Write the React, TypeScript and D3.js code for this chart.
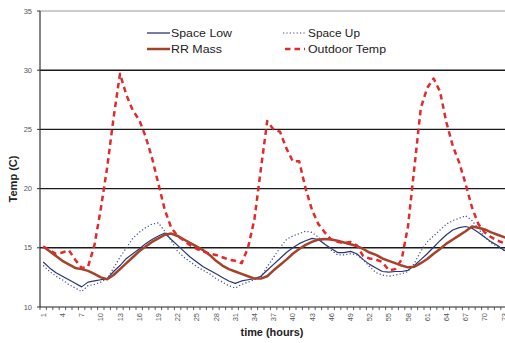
import React from "react";
import * as d3 from "d3";

const hours = [
  1, 2, 3, 4, 5, 6, 7, 8, 9, 10, 11, 12, 13, 14, 15, 16, 17, 18, 19, 20,
  21, 22, 23, 24, 25, 26, 27, 28, 29, 30, 31, 32, 33, 34, 35, 36, 37, 38, 39, 40,
  41, 42, 43, 44, 45, 46, 47, 48, 49, 50, 51, 52, 53, 54, 55, 56, 57, 58, 59, 60,
  61, 62, 63, 64, 65, 66, 67, 68, 69, 70, 71, 72, 73, 74, 75,
];

const spaceLow = [
  13.8, 13.3, 12.9, 12.6, 12.3, 12.0, 11.7, 12.1, 12.2, 12.3,
  12.4, 13.0, 13.5, 14.1, 14.5, 14.9, 15.35, 15.7, 16.0, 16.25,
  15.7, 15.2, 14.7, 14.2, 13.8, 13.4, 13.1, 12.8, 12.5, 12.2,
  12.0, 12.2, 12.3, 12.4, 12.6, 13.1, 13.6, 14.1, 14.6, 15.0,
  15.35, 15.6, 15.8, 15.7, 15.3, 14.95, 14.6, 14.6, 14.7, 14.5,
  14.0, 13.6, 13.3, 13.0, 12.95, 13.0, 13.0, 13.1, 13.5, 14.0,
  14.5, 15.05, 15.6, 16.1, 16.5, 16.7, 16.8, 16.65, 16.3, 15.9,
  15.5, 15.2, 14.8, 14.6, 14.4,
];

const spaceUp = [
  13.5, 13.0, 12.6, 12.3, 11.9, 11.6, 11.3, 11.8, 11.9, 12.1,
  12.4, 13.3, 14.2, 15.0, 15.8, 16.3, 16.7, 17.0, 17.1, 16.4,
  15.6, 14.7, 14.2, 13.8, 13.4, 13.1, 12.8, 12.4, 12.1, 11.8,
  11.6, 11.9, 12.1, 12.3, 12.5, 13.4, 14.2, 15.0, 15.7, 16.0,
  16.2, 16.4, 16.3, 15.9, 15.3, 14.8, 14.4, 14.4, 14.5, 14.4,
  14.0, 13.4, 12.9, 12.7, 12.6, 12.7, 12.8, 13.0, 13.7, 14.7,
  15.5, 16.0, 16.5, 17.0, 17.3, 17.5, 17.7, 17.3, 16.6, 15.9,
  15.4, 15.1, 14.8, 14.6, 14.4,
];

const rrMass = [
  15.1, 14.7, 14.3, 13.9, 13.6, 13.3, 13.2, 13.05, 12.8, 12.5,
  12.35, 12.7, 13.2, 13.7, 14.2, 14.7, 15.1, 15.5, 15.8, 16.1,
  16.2, 16.0, 15.7, 15.4, 15.1, 14.8, 14.4, 13.9, 13.5, 13.2,
  13.0, 12.8, 12.6, 12.4, 12.4, 12.6, 13.1, 13.55, 14.0, 14.5,
  14.9, 15.25, 15.5, 15.7, 15.75, 15.7, 15.6, 15.45, 15.3, 15.15,
  14.9, 14.6, 14.4, 14.1, 13.9, 13.7, 13.5, 13.35, 13.4, 13.7,
  14.05, 14.5, 14.9, 15.35, 15.7, 16.05, 16.4, 16.8, 16.7, 16.55,
  16.3, 16.1, 15.9, 15.7, 15.6,
];

const outdoorTemp = [
  15.1, 14.8, 14.5, 14.6, 14.8, 14.0, 13.3, 13.4, 15.2, 18.3,
  21.8, 26.0, 29.7, 27.9, 26.6, 25.8, 24.4, 22.6, 20.4, 18.2,
  16.7, 16.0, 15.6, 15.2, 14.9, 14.7, 14.5, 14.4, 14.2, 14.0,
  13.9, 13.7, 15.0, 17.4, 21.6, 25.7, 25.0, 24.8, 23.4, 22.3,
  22.3, 20.0, 18.2, 17.0, 16.3, 15.7, 15.5, 15.4, 15.5, 15.2,
  14.3, 14.1, 14.0, 13.8, 13.1, 13.2, 14.0, 16.8, 21.8, 26.8,
  28.5, 29.3, 28.2, 25.6, 23.6, 22.2, 20.4, 18.4, 17.0, 16.3,
  15.9, 15.6, 15.4, 15.3, 15.2,
];

const yTicks = [10, 15, 20, 25, 30, 35];
const xTickLabels = [1, 4, 7, 10, 13, 16, 19, 22, 25, 28, 31, 34, 37, 40, 43, 46, 49, 52, 55, 58, 61, 64, 67, 70, 73];

const W = 505;
const H = 343;
const left = 40;
const bottom = 307;
const top = 11;
const step = 6.4;

export default function App() {
  const x = d3
    .scaleBand<number>()
    .domain(hours)
    .range([left, left + hours.length * step])
    .paddingInner(0)
    .paddingOuter(0);
  const y = d3.scaleLinear().domain([10, 35]).range([bottom, top]);
  const cx = (h: number) => (x(h) as number) + x.bandwidth() / 2;

  const line = (vals: number[]) =>
    d3
      .line<number>()
      .x((_, i) => cx(hours[i]))
      .y((v) => y(v))(vals) as string;

  const font = "Liberation Sans, Arial, sans-serif";

  return (
    <svg
      width={W}
      height={H}
      style={{ position: "absolute", left: 0, top: 0, background: "#fff" }}
      fontFamily={font}
    >
      <defs>
        <clipPath id="clip">
          <rect x={0} y={0} width={W} height={H} />
        </clipPath>
      </defs>
      <rect x={0} y={0} width={W} height={H} fill="#fff" />
      {/* gridlines */}
      {yTicks
        .filter((t) => t > 10)
        .map((t) => (
          <line
            key={"g" + t}
            x1={left}
            x2={W}
            y1={y(t)}
            y2={y(t)}
            stroke={t === 35 ? "#9a9a9a" : "#1a1a1a"}
            strokeWidth={t === 35 ? 1 : 1.4}
          />
        ))}
      {/* y axis */}
      <line x1={left} x2={left} y1={top} y2={bottom} stroke="#333" strokeWidth={1.2} />
      {yTicks.map((t) => (
        <g key={"yt" + t}>
          <line x1={left - 3} x2={left} y1={y(t)} y2={y(t)} stroke="#333" />
          <text
            x={32}
            y={y(t)}
            dy="0.35em"
            textAnchor="end"
            fontSize={7.5}
            fill="#555"
          >
            {t}
          </text>
        </g>
      ))}
      {/* x axis */}
      <line x1={left} x2={W} y1={bottom} y2={bottom} stroke="#222" strokeWidth={1.2} />
      {hours.map((h) => (
        <line
          key={"xt" + h}
          x1={x(h) as number}
          x2={x(h) as number}
          y1={bottom}
          y2={bottom + 3}
          stroke="#333"
          strokeWidth={0.8}
        />
      ))}
      {xTickLabels.map((h) => (
        <text
          key={"xl" + h}
          transform={`translate(${cx(h) + 2.5},${bottom + 6}) rotate(-90)`}
          textAnchor="end"
          fontSize={7.5}
          fill="#555"
        >
          {h}
        </text>
      ))}
      {/* series */}
      <g clipPath="url(#clip)" fill="none" strokeLinejoin="round">
        <path d={line(spaceLow)} stroke="#2a3577" strokeWidth={1.2} />
        <path d={line(spaceUp)} stroke="#3a4a8a" strokeWidth={1.2} strokeDasharray="1.2,2.2" />
        <path d={line(rrMass)} stroke="#a3442a" strokeWidth={2.5} />
        <path d={line(outdoorTemp)} stroke="#e02a2e" strokeWidth={2.5} strokeDasharray="5.5,4" />
      </g>
      {/* axis titles */}
      <text
        transform={`translate(17,179) rotate(-90)`}
        textAnchor="middle"
        fontSize={10.5}
        fontWeight="bold"
        fill="#222"
        textLength={47}
        lengthAdjust="spacingAndGlyphs"
      >
        Temp (C)
      </text>
      <text
        x={272}
        y={336}
        textAnchor="middle"
        fontSize={10.5}
        fontWeight="bold"
        fill="#222"
        textLength={63}
        lengthAdjust="spacingAndGlyphs"
      >
        time (hours)
      </text>
      {/* legend */}
      <g fontSize={10.5} fill="#222">
        <line x1={147} x2={170} y1={33} y2={33} stroke="#2a3577" strokeWidth={1.3} />
        <text x={171} y={33} dy="0.35em" textLength={61} lengthAdjust="spacingAndGlyphs">
          Space Low
        </text>
        <line x1={283} x2={305} y1={33} y2={33} stroke="#3a4a8a" strokeWidth={1.2} strokeDasharray="1.2,2.2" />
        <text x={308} y={33} dy="0.35em" textLength={52} lengthAdjust="spacingAndGlyphs">
          Space Up
        </text>
        <line x1={147} x2={170} y1={49} y2={49} stroke="#a3442a" strokeWidth={2.5} />
        <text x={171} y={49} dy="0.35em" textLength={51} lengthAdjust="spacingAndGlyphs">
          RR Mass
        </text>
        <line x1={285} x2={305} y1={49} y2={49} stroke="#e02a2e" strokeWidth={2.5} strokeDasharray="5.5,4" />
        <text x={308} y={49} dy="0.35em" textLength={78} lengthAdjust="spacingAndGlyphs">
          Outdoor Temp
        </text>
      </g>
    </svg>
  );
}
